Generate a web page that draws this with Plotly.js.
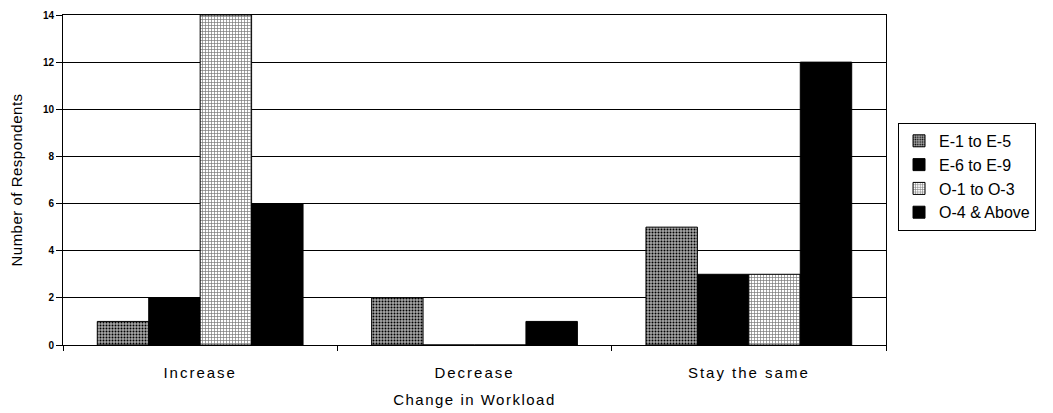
<!DOCTYPE html>
<html>
<head>
<meta charset="utf-8">
<script src="https://cdn.plot.ly/plotly-3.0.1.min.js"></script>
<style>
html,body{margin:0;padding:0;background:#fff;}
#chart{width:1053px;height:413px;}
#chart .xtick text{letter-spacing:2px;}
#chart .g-xtitle text{letter-spacing:1.5px;}
#chart .g-ytitle text{letter-spacing:0.5px;}
</style>
</head>
<body>
<div id="chart"></div>
<script>
const categories = ["Increase", "Decrease", "Stay the same"];
const seriesNames = ["E-1 to E-5", "E-6 to E-9", "O-1 to O-3", "O-4 & Above"];
const e1toe5 = [1, 2, 5];
const e6toe9 = [2, 0, 3];
const o1too3 = [14, 0, 3];
const o4above = [6, 1, 12];
const yTicks = [0, 2, 4, 6, 8, 10, 12, 14];

const styles = [
  {color: "#999", pattern: {shape: ".", fgcolor: "#000", bgcolor: "#a8a8a8", size: 3, solidity: 0.35}},
  {color: "#000"},
  {color: "#ffffff", pattern: {shape: "+", fgcolor: "#777", bgcolor: "#fff", size: 3, solidity: 0.4}},
  {color: "#000"}
];
const values = [e1toe5, e6toe9, o1too3, o4above];

const traces = values.map((v, i) => {
  const m = {color: styles[i].color, line: {color: "#000", width: 1}};
  if (styles[i].pattern) m.pattern = Object.assign({fillmode: "replace"}, styles[i].pattern);
  return {type: "bar", name: seriesNames[i], x: categories, y: v, marker: m};
});

const layout = {
  width: 1053, height: 413,
  margin: {l: 63, r: 167, t: 15, b: 68},
  paper_bgcolor: "#fff", plot_bgcolor: "#fff",
  barmode: "group", bargap: 0.25, bargroupgap: 0,
  font: {family: "Liberation Sans, Arial, sans-serif", color: "#000", size: 14},
  xaxis: {
    type: "category",
    showline: true, linecolor: "#000", linewidth: 1,
    ticks: "outside", tickson: "boundaries", ticklen: 5, tickcolor: "#000",
    tickfont: {size: 15}, showgrid: false, mirror: true,
    ticklabelstandoff: 14, automargin: false,
    title: {text: "Change in Workload", font: {size: 15}, standoff: 14}
  },
  yaxis: {
    range: [0, 14], tickvals: yTicks, ticktext: yTicks.map(String),
    showline: true, linecolor: "#000", linewidth: 1, mirror: true,
    ticks: "outside", ticklen: 6, tickcolor: "#000",
    tickfont: {size: 10, weight: "bold"}, showgrid: true, gridcolor: "#000", gridwidth: 1,
    zeroline: false, automargin: false,
    title: {text: "Number of Respondents", font: {size: 15}, standoff: 16}
  },
  showlegend: true,
  legend: {
    x: 1.0146, xanchor: "left", y: 0.673, yanchor: "top",
    bordercolor: "#000", borderwidth: 1, bgcolor: "#fff",
    font: {size: 16}, itemwidth: 30, traceorder: "normal"
  }
};
Plotly.newPlot("chart", traces, layout, {displayModeBar: false, staticPlot: true});
</script>
</body>
</html>
